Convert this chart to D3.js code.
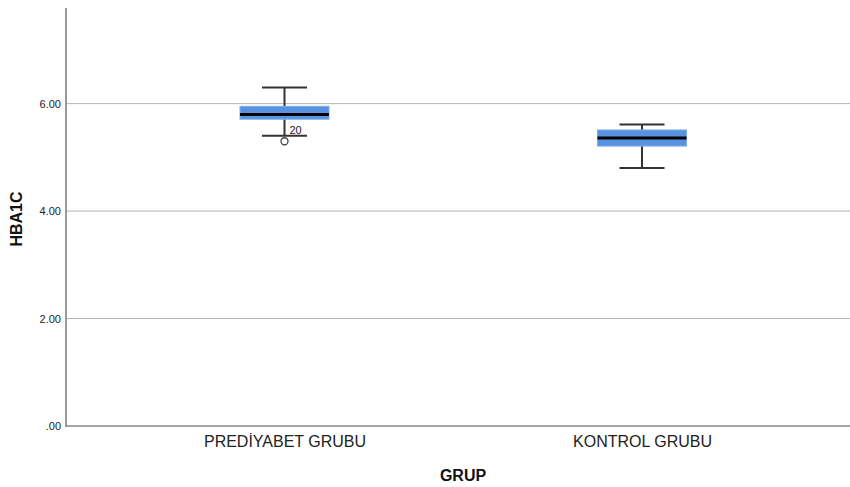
<!DOCTYPE html>
<html><head><meta charset="utf-8">
<script src="https://cdn.jsdelivr.net/npm/d3@7"></script>
<style>body{margin:0;background:#fff}svg{display:block}text{font-family:Arial,"Liberation Sans",sans-serif}</style>
</head><body><svg id="c" width="850" height="487"></svg>
<script>
const categories = ["PREDİYABET GRUBU", "KONTROL GRUBU"];
const whiskerLow = [5.40, 4.80];
const q1 = [5.71, 5.21];
const medians = [5.80, 5.36];
const q3 = [5.95, 5.51];
const whiskerHigh = [6.30, 5.61];
const outliers = [{cat: "PREDİYABET GRUBU", value: 5.30, label: "20"}];
const yTicks = [0, 2, 4, 6];
const yTickLabels = [".00", "2.00", "4.00", "6.00"];

(function () {
const svg = d3.select("#c");
const mLeft = 66, mRight = 850, mTop = 8, mBottom = 426;
const y = d3.scaleLinear().domain([0, 7.78]).range([mBottom, mTop]);
const x = d3.scalePoint().domain(categories).range([284.5, 642]);
const boxW = 89, capW = 45;

// gridlines
svg.append("g").selectAll("line").data(yTicks.filter(d => d > 0)).join("line")
  .attr("x1", mLeft).attr("x2", mRight)
  .attr("y1", d => y(d)).attr("y2", d => y(d))
  .attr("stroke", "#b4b4b4").attr("stroke-width", 1);

// y axis
const yAxis = d3.axisLeft(y).tickValues(yTicks).tickSize(0).tickPadding(5)
  .tickFormat((d, i) => yTickLabels[i]);
const gy = svg.append("g").attr("transform", `translate(${mLeft},0)`).call(yAxis);
gy.select(".domain").remove();
gy.selectAll("text").attr("font-size", 11).attr("fill", "#222").attr("font-family", "Arial,'Liberation Sans',sans-serif");

// x axis
const xAxis = d3.axisBottom(x).tickSize(0).tickPadding(10);
const gx = svg.append("g").attr("transform", `translate(0,${mBottom})`).call(xAxis);
gx.select(".domain").remove();
gx.selectAll("text").attr("font-size", 16).attr("fill", "#222").attr("font-family", "Arial,'Liberation Sans',sans-serif");

// axis lines
svg.append("line").attr("x1", mLeft).attr("x2", mLeft).attr("y1", mTop).attr("y2", mBottom + 1)
  .attr("stroke", "#999").attr("stroke-width", 2);
svg.append("line").attr("x1", mLeft).attr("x2", mRight).attr("y1", mBottom).attr("y2", mBottom)
  .attr("stroke", "#888").attr("stroke-width", 1.5);

// boxes
const data = categories.map((c, i) => ({c, lo: whiskerLow[i], q1: q1[i], med: medians[i], q3: q3[i], hi: whiskerHigh[i]}));
const g = svg.append("g").selectAll("g").data(data).join("g");
g.append("line").attr("x1", d => x(d.c)).attr("x2", d => x(d.c))
  .attr("y1", d => y(d.hi)).attr("y2", d => y(d.lo))
  .attr("stroke", "#333").attr("stroke-width", 2);
g.append("line").attr("x1", d => x(d.c) - capW / 2).attr("x2", d => x(d.c) + capW / 2)
  .attr("y1", d => y(d.hi)).attr("y2", d => y(d.hi)).attr("stroke", "#333").attr("stroke-width", 2);
g.append("line").attr("x1", d => x(d.c) - capW / 2).attr("x2", d => x(d.c) + capW / 2)
  .attr("y1", d => y(d.lo)).attr("y2", d => y(d.lo)).attr("stroke", "#333").attr("stroke-width", 2);
g.append("rect").attr("x", d => x(d.c) - boxW / 2).attr("width", boxW)
  .attr("y", d => y(d.q3)).attr("height", d => y(d.q1) - y(d.q3))
  .attr("fill", "#5893e2").attr("stroke", "#7eacea").attr("stroke-width", 1);
g.append("line").attr("x1", d => x(d.c) - boxW / 2).attr("x2", d => x(d.c) + boxW / 2)
  .attr("y1", d => y(d.med)).attr("y2", d => y(d.med)).attr("stroke", "#000").attr("stroke-width", 3);

// outliers
const og = svg.append("g").selectAll("g").data(outliers).join("g");
og.append("circle").attr("cx", d => x(d.cat)).attr("cy", d => y(d.value)).attr("r", 3.5)
  .attr("fill", "#fff").attr("stroke", "#444").attr("stroke-width", 1.3);
og.append("text").attr("x", d => x(d.cat) + 5).attr("y", d => y(d.value) - 7)
  .attr("font-size", 11).attr("fill", "#222").text(d => d.label);

// axis titles
svg.append("text").attr("x", 463).attr("y", 481).attr("text-anchor", "middle")
  .attr("font-size", 16).attr("font-weight", "bold").attr("fill", "#111").text("GRUP");
svg.append("text").attr("transform", "translate(22,219) rotate(-90)").attr("text-anchor", "middle")
  .attr("font-size", 16).attr("font-weight", "bold").attr("fill", "#111").text("HBA1C");
})();
</script></body></html>
